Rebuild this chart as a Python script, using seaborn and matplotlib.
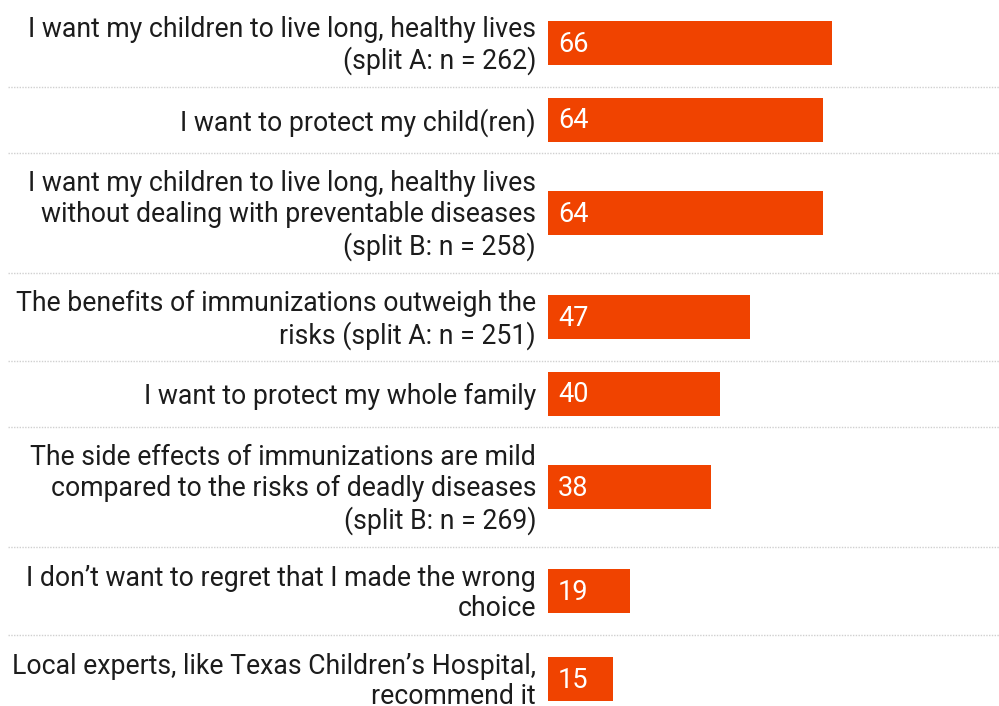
import numpy as np
import pandas as pd
import matplotlib
matplotlib.use("Agg")
import matplotlib.pyplot as plt
import matplotlib.transforms as mtransforms
import seaborn as sns

# ---- data ----
labels = [
    "I want my children to live long, healthy lives\n(split A: n = 262)",
    "I want to protect my child(ren)",
    "I want my children to live long, healthy lives\nwithout dealing with preventable diseases\n(split B: n = 258)",
    "The benefits of immunizations outweigh the\nrisks (split A: n = 251)",
    "I want to protect my whole family",
    "The side effects of immunizations are mild\ncompared to the risks of deadly diseases\n(split B: n = 269)",
    "I don\u2019t want to regret that I made the wrong\nchoice",
    "Local experts, like Texas Children\u2019s Hospital,\nrecommend it",
]
values = [66, 64, 64, 47, 40, 38, 19, 15]

# ---- layout (pixel-based vertical units) ----
W, H, DPI = 999, 706, 100
line_h = 32
min_row = 66
bar_h = 44
n_lines = [lab.count("\n") + 1 for lab in labels]
row_h = [max(min_row, line_h * n + 24) for n in n_lines]
edges = np.concatenate([[0], np.cumsum(row_h)]) - 1.5
centers = (edges[:-1] + edges[1:]) / 2

px_per_unit = 4.30
bar_x0 = 548

sns.set_theme(style="white")
plt.rcParams["font.family"] = ["Roboto", "DejaVu Sans"]

fig = plt.figure(figsize=(W / DPI, H / DPI), dpi=DPI)
ax = fig.add_axes([0, 0, 1, 1])

df = pd.DataFrame({"pos": centers, "value": values})
native_w = np.min(np.diff(np.unique(centers)))
sns.barplot(data=df, x="value", y="pos", orient="h", native_scale=True,
            width=bar_h / native_w, color="#F04300", saturation=1,
            edgecolor="none", linewidth=0, ax=ax)

ax.set_xlim(-bar_x0 / px_per_unit, (W - bar_x0) / px_per_unit)
ax.set_ylim(H, 0)
ax.axis("off")

pt = 72 / DPI
text_color = "#1c1c1c"
lab_off = mtransforms.offset_copy(ax.transData, fig=fig, x=-12 * pt, y=-3 * pt, units="points")
val_off = mtransforms.offset_copy(ax.transData, fig=fig, x=10 * pt, y=-1.5 * pt, units="points")
for c, lab, v in zip(centers, labels, values):
    ax.text(0, c, lab, transform=lab_off, ha="right", va="center",
            multialignment="right", fontsize=19.2, color=text_color,
            linespacing=1.19)
    ax.text(0, c, str(v), transform=val_off, ha="left", va="center",
            fontsize=19.5, color="white")

# dotted separators between rows
x_left = -bar_x0 / px_per_unit + 8 / px_per_unit
for e in edges[1:-1]:
    ax.plot([x_left, (W - bar_x0) / px_per_unit], [e, e], color="#d0d0d0",
            linestyle=(0, (1, 1)), linewidth=1)

fig.savefig("out.png", dpi=DPI, facecolor="white")
